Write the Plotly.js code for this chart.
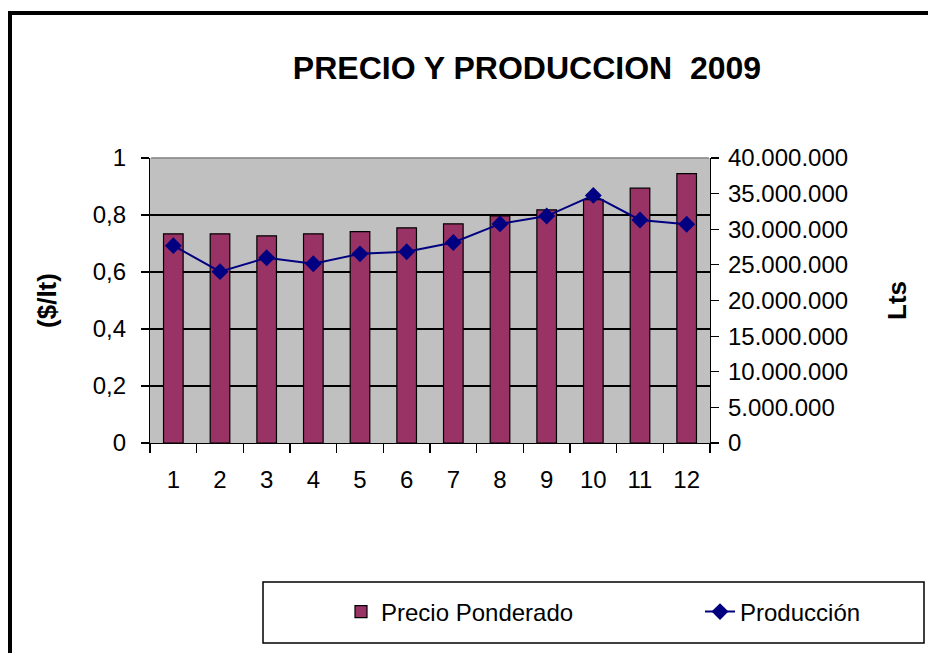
<!DOCTYPE html>
<html>
<head>
<meta charset="utf-8">
<script src="https://cdn.plot.ly/plotly-3.0.1.min.js"></script>
<style>
  html, body { margin: 0; padding: 0; background: #ffffff; }
  #chart { width: 928px; height: 653px; }
</style>
</head>
<body>
<div id="chart"></div>
<script>
// Data
const months = ["1", "2", "3", "4", "5", "6", "7", "8", "9", "10", "11", "12"];
const precioPonderado = [0.734, 0.734, 0.727, 0.734, 0.742, 0.755, 0.769, 0.797, 0.818, 0.854, 0.894, 0.945];
const produccion = [27700000, 24050000, 26000000, 25150000, 26550000, 26850000, 28150000, 30750000, 31850000, 34750000, 31300000, 30700000];
const leftTicks = [0, 0.2, 0.4, 0.6, 0.8, 1];
const rightTicks = [0, 5000000, 10000000, 15000000, 20000000, 25000000, 30000000, 35000000, 40000000];

const FONT = "Liberation Sans, Arial, sans-serif";

// plot area in pixels: left 150, right 710, top 158, bottom 443
const L = 150, R = 710, T = 158, B = 443, W = 928, H = 653;
const px = x => (x - L) / (R - L);
const py = y => (B - y) / (B - T);

const traces = [
  {
    type: "bar",
    name: "Precio Ponderado",
    x: months,
    y: precioPonderado,
    width: 0.42,
    marker: { color: "#993366", line: { color: "#000000", width: 1.2 } },
    legend: "legend",
    hoverinfo: "skip"
  },
  {
    type: "scatter",
    mode: "lines+markers",
    name: "Producción",
    x: months,
    y: produccion,
    yaxis: "y2",
    line: { color: "#000080", width: 2 },
    marker: { symbol: "diamond", size: 13, color: "#000080" },
    legend: "legend2",
    hoverinfo: "skip"
  }
];

const legendBase = {
  orientation: "h",
  xanchor: "left", yanchor: "middle",
  bgcolor: "rgba(0,0,0,0)",
  borderwidth: 0,
  font: { family: FONT, size: 24 }
};

const layout = {
  width: W,
  height: H,
  paper_bgcolor: "#ffffff",
  plot_bgcolor: "#c0c0c0",
  separators: ",.",
  font: { family: FONT, size: 24, color: "#000000" },
  margin: { l: L, r: W - R, t: T, b: H - B, pad: 0, autoexpand: false },
  showlegend: true,
  title: {
    text: "<b>PRECIO Y PRODUCCION  2009</b>",
    font: { family: FONT, size: 32, color: "#000000" },
    xref: "container", yref: "container",
    x: 527 / W, y: 1 - 68 / H,
    xanchor: "center", yanchor: "middle"
  },
  xaxis: {
    type: "category",
    range: [-0.5, 11.5],
    tickson: "boundaries",
    ticks: "outside",
    ticklen: 9,
    tickwidth: 1.2,
    tickcolor: "#000000",
    ticklabelstandoff: 15,
    showline: true,
    linecolor: "#000000",
    linewidth: 1.2,
    showgrid: false,
    tickfont: { family: FONT, size: 24 },
    fixedrange: true
  },
  yaxis: {
    range: [0, 1],
    tickvals: leftTicks,
    ticks: "outside",
    ticklen: 8,
    tickwidth: 1.2,
    tickcolor: "#000000",
    ticklabelstandoff: 10,
    showline: true,
    linecolor: "#000000",
    linewidth: 1.2,
    showgrid: true,
    gridcolor: "#000000",
    gridwidth: 1.2,
    zeroline: false,
    tickfont: { family: FONT, size: 24 },
    title: { text: "<b>($/lt)</b>", font: { family: FONT, size: 26 }, standoff: 28 },
    fixedrange: true
  },
  yaxis2: {
    overlaying: "y",
    side: "right",
    range: [0, 40000000],
    tickvals: rightTicks,
    tickformat: ",d",
    ticks: "outside",
    ticklen: 8,
    tickwidth: 1.2,
    tickcolor: "#000000",
    ticklabelstandoff: 4,
    showline: true,
    linecolor: "#000000",
    linewidth: 1.2,
    showgrid: false,
    zeroline: false,
    tickfont: { family: FONT, size: 24 },
    title: { text: "<b>Lts</b>", font: { family: FONT, size: 26 }, standoff: 40 },
    fixedrange: true
  },
  legend: Object.assign({}, legendBase, { x: px(341), y: py(612) }),
  legend2: Object.assign({}, legendBase, { x: px(700), y: py(612) }),
  shapes: [
    // gray top edge of plot area
    { type: "line", xref: "paper", yref: "paper",
      x0: 0.002, x1: 0.998, y0: 1, y1: 1,
      line: { color: "#808080", width: 1.5 } },
    // legend frame
    { type: "rect", xref: "paper", yref: "paper",
      x0: px(263), x1: px(924), y0: py(643), y1: py(582),
      line: { color: "#000000", width: 1.5 }, fillcolor: "rgba(0,0,0,0)", layer: "below" },
    // outer chart frame (left + top)
    { type: "line", xref: "paper", yref: "paper",
      x0: px(10), x1: px(10), y0: py(660), y1: py(11),
      line: { color: "#000000", width: 4 } },
    { type: "line", xref: "paper", yref: "paper",
      x0: px(8), x1: px(935), y0: py(13), y1: py(13),
      line: { color: "#000000", width: 4 } }
  ]
};

Plotly.newPlot("chart", traces, layout, { displayModeBar: false, staticPlot: true });
</script>
</body>
</html>
